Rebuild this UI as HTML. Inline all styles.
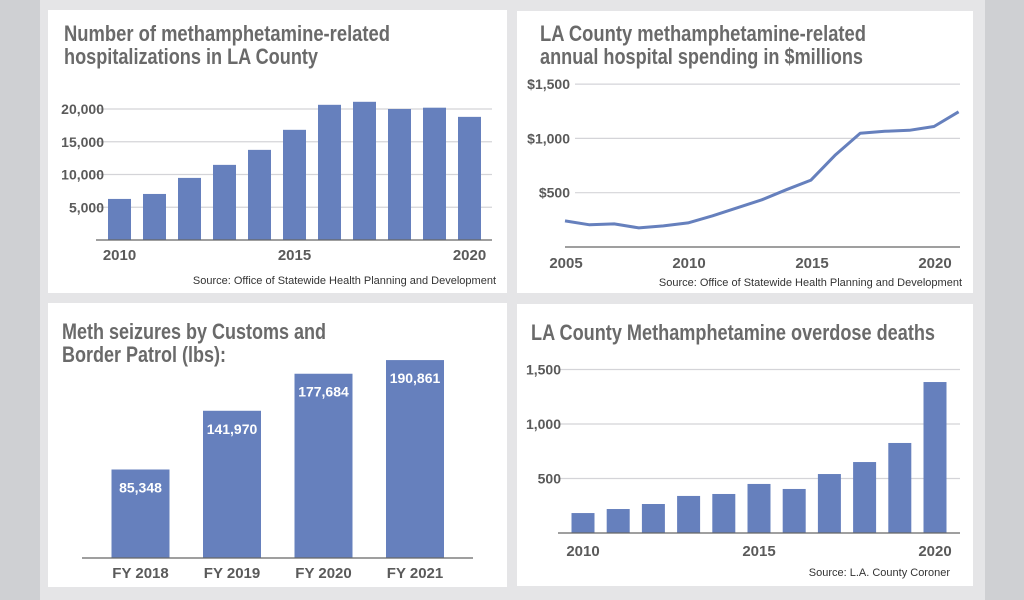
<!DOCTYPE html>
<html><head><meta charset="utf-8"><style>
html,body{margin:0;padding:0;width:1024px;height:600px;overflow:hidden;background:#cfd0d3;}
svg{display:block}
.title{font-family:"Liberation Sans Narrow","Liberation Sans",sans-serif;font-weight:bold;font-size:22px;fill:#6a6a6a}
.tick{font-family:"Liberation Sans",sans-serif;font-weight:bold;font-size:14px;fill:#5a5a5a}
.xt{font-family:"Liberation Sans",sans-serif;font-weight:bold;font-size:15px;fill:#5a5a5a}
.src{font-family:"Liberation Sans",sans-serif;font-size:11px;fill:#333}
.grid{stroke:#d4d4d8;stroke-width:1.2}
.axis{stroke:#666;stroke-width:1.2}
.val{font-family:"Liberation Sans",sans-serif;font-weight:bold;font-size:14px;fill:#fff}
</style></head><body>
<svg id="s" width="1024" height="600" xmlns="http://www.w3.org/2000/svg">
<rect x="40" y="0" width="945" height="600" fill="#e5e5e7"/>
<rect x="48" y="10" width="459" height="283" fill="#fff"/>
<rect x="517" y="11" width="456" height="282" fill="#fff"/>
<rect x="48" y="303" width="459" height="284" fill="#fff"/>
<rect x="517" y="304" width="456" height="282" fill="#fff"/>

<text class="title" x="64" y="41" textLength="326" lengthAdjust="spacingAndGlyphs">Number of methamphetamine-related</text>
<text class="title" x="64" y="64" textLength="254" lengthAdjust="spacingAndGlyphs">hospitalizations in LA County</text>
<text class="src" x="496" y="284" text-anchor="end">Source: Office of Statewide Health Planning and Development</text>

<text class="title" x="540" y="41" textLength="326" lengthAdjust="spacingAndGlyphs">LA County methamphetamine-related</text>
<text class="title" x="540" y="64" textLength="323" lengthAdjust="spacingAndGlyphs">annual hospital spending in $millions</text>
<text class="src" x="962" y="286" text-anchor="end">Source: Office of Statewide Health Planning and Development</text>

<text class="title" x="62" y="339" textLength="264" lengthAdjust="spacingAndGlyphs">Meth seizures by Customs and</text>
<text class="title" x="62" y="362" textLength="164" lengthAdjust="spacingAndGlyphs">Border Patrol (lbs):</text>

<text class="title" x="531" y="340" textLength="404" lengthAdjust="spacingAndGlyphs">LA County Methamphetamine overdose deaths</text>
<text class="src" x="950" y="576" text-anchor="end">Source: L.A. County Coroner</text>
</svg>
<script>
const NS="http://www.w3.org/2000/svg";
const svg=document.getElementById('s');
function mk(tag,attrs,text){const e=document.createElementNS(NS,tag);for(const k in attrs)e.setAttribute(k,attrs[k]);if(text!==undefined)e.textContent=text;svg.appendChild(e);return e;}
const BLUE="#6680bd";

// Chart 1 data
const hospYears=[2010,2011,2012,2013,2014,2015,2016,2017,2018,2019,2020];
const hospValues=[6270,7030,9480,11470,13760,16820,20640,21100,20000,20200,18800];
const hospTicks=[5000,10000,15000,20000];
const hospTickLabels=["5,000","10,000","15,000","20,000"];
const hospXLabels=[2010,2015,2020];

// Chart 2 data
const spendYears=[2005,2006,2007,2008,2009,2010,2011,2012,2013,2014,2015,2016,2017,2018,2019,2020,2021];
const spendValues=[240,204,213,176,194,222,287,361,435,528,616,850,1048,1065,1075,1110,1245];
const spendTicks=[500,1000,1500];
const spendTickLabels=["$500","$1,000","$1,500"];
const spendXLabels=[2005,2010,2015,2020];

// Chart 3 data
const seizeCats=["FY 2018","FY 2019","FY 2020","FY 2021"];
const seizeValues=[85348,141970,177684,190861];
const seizeLabels=["85,348","141,970","177,684","190,861"];

// Chart 4 data
const deathYears=[2010,2011,2012,2013,2014,2015,2016,2017,2018,2019,2020];
const deathValues=[183,220,266,340,358,450,404,541,651,826,1385];
const deathTicks=[500,1000,1500];
const deathTickLabels=["500","1,000","1,500"];
const deathXLabels=[2010,2015,2020];

// ---- Chart 1
{
 const y=v=>240-v*(32.75/5000), x=yr=>119.5+(yr-2010)*35;
 hospTicks.forEach((t,i)=>{
  const g=mk('line',{x1:96,x2:492,y1:y(t),y2:y(t),class:'grid'});
  
  
  const l=mk('text',{x:104,y:y(t)+5,class:'tick','text-anchor':'end'},hospTickLabels[i]);
  
  
 });
 hospYears.forEach((yr,i)=>{
  const b=mk('rect',{x:x(yr)-11.5,y:y(hospValues[i]),width:23,height:240-y(hospValues[i]),fill:BLUE});
  
  
 });
 const a=mk('line',{x1:96,x2:492,y1:240,y2:240,class:'axis'});
 
 
 hospXLabels.forEach(yr=>{
  const l=mk('text',{x:x(yr),y:260,class:'xt','text-anchor':'middle'},String(yr));
  
  
 });
}
// ---- Chart 2
{
 const y=v=>247-v*(54.3/500), x=yr=>565+(yr-2005)*24.6;
 spendTicks.forEach((t,i)=>{
  const g=mk('line',{x1:575,x2:960,y1:y(t),y2:y(t),class:'grid'});
  
  
  const l=mk('text',{x:570,y:y(t)+5,class:'tick','text-anchor':'end'},spendTickLabels[i]);
  
  
 });
 const a=mk('line',{x1:565,x2:960,y1:247,y2:247,class:'axis'});
 
 
 const pts=spendYears.map((yr,i)=>x(yr).toFixed(1)+','+y(spendValues[i]).toFixed(1)).join(' ');
 const p=mk('polyline',{points:pts,fill:'none',stroke:BLUE,'stroke-width':3,'stroke-linejoin':'round'});
 
 
 spendXLabels.forEach(yr=>{
  const l=mk('text',{x:x(yr)+1,y:268,class:'xt','text-anchor':'middle'},String(yr));
  
  
 });
}
// ---- Chart 3
{
 const y=v=>558-v*0.001037, x=i=>140.5+i*91.5;
 seizeCats.forEach((c,i)=>{
  const b=mk('rect',{x:x(i)-29,y:y(seizeValues[i]),width:58,height:558-y(seizeValues[i]),fill:BLUE});
  
  
  const v=mk('text',{x:x(i),y:y(seizeValues[i])+23,class:'val','text-anchor':'middle'},seizeLabels[i]);
  
  
  const l=mk('text',{x:x(i),y:578,class:'xt','text-anchor':'middle'},c);
  
  
 });
 const a=mk('line',{x1:82,x2:473,y1:558,y2:558,class:'axis'});
 
 
}
// ---- Chart 4
{
 const y=v=>533-v*(54.5/500), x=yr=>583+(yr-2010)*35.2;
 deathTicks.forEach((t,i)=>{
  const g=mk('line',{x1:560,x2:960,y1:y(t),y2:y(t),class:'grid'});
  
  
  const l=mk('text',{x:561,y:y(t)+5,class:'tick','text-anchor':'end'},deathTickLabels[i]);
  
  
 });
 deathYears.forEach((yr,i)=>{
  const b=mk('rect',{x:x(yr)-11.5,y:y(deathValues[i]),width:23,height:533-y(deathValues[i]),fill:BLUE});
  
  
 });
 const a=mk('line',{x1:558,x2:960,y1:533,y2:533,class:'axis'});
 
 
 deathXLabels.forEach(yr=>{
  const l=mk('text',{x:x(yr),y:556,class:'xt','text-anchor':'middle'},String(yr));
  
  
 });
}
</script>
</body></html>
